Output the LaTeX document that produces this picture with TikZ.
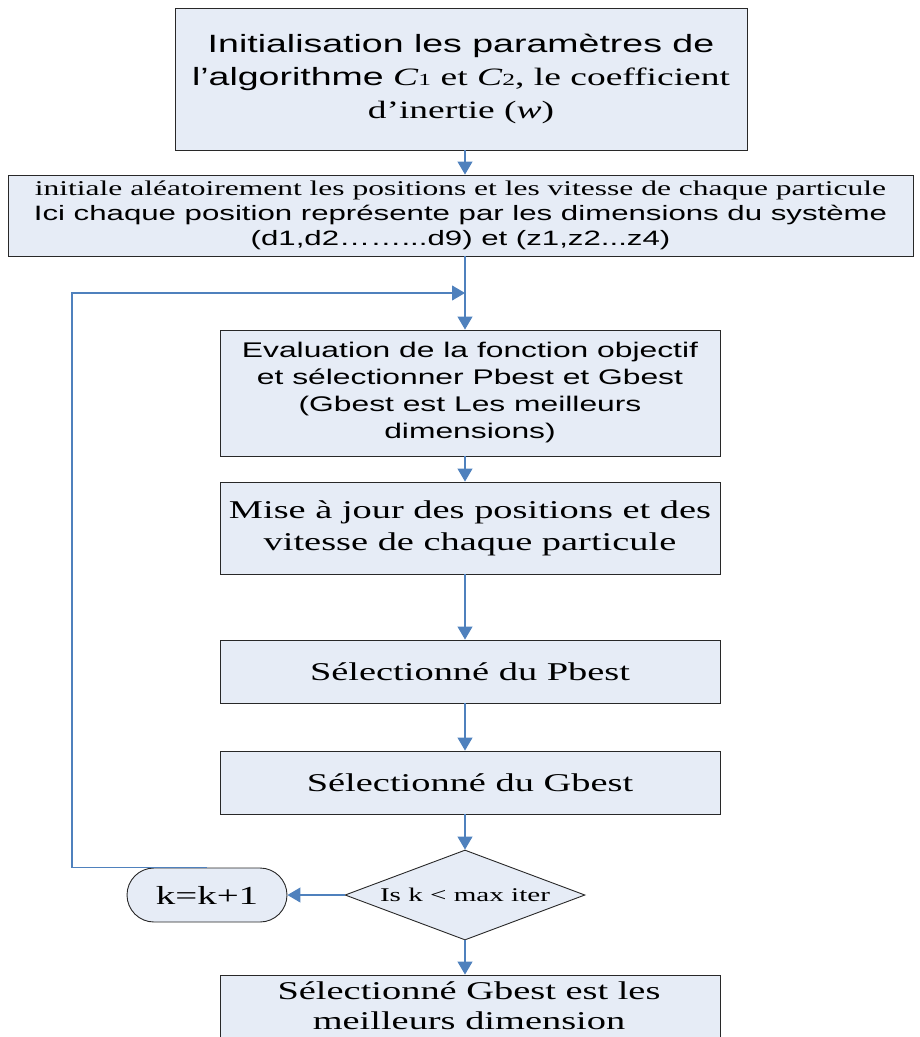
\documentclass[tikz,border=0pt]{standalone}
\usepackage{fontspec}
\setmainfont[FakeStretch=1.5]{Liberation Serif}
\newfontfamily\arialfont[FakeStretch=1.5]{Liberation Sans}
\usetikzlibrary{arrows.meta,shapes.geometric,shapes.misc,shadows}

\definecolor{boxfill}{RGB}{230,236,246}
\definecolor{linkblue}{RGB}{79,129,189}
\definecolor{boxedge}{RGB}{40,40,40}

\newcommand{\fs}[2]{\fontsize{#1}{#2}\selectfont}

\tikzset{
  stepbox/.style={draw=boxedge, line width=0.9pt, fill=boxfill, align=center,
    inner sep=0pt, drop shadow={shadow xshift=1.2pt, shadow yshift=-1.2pt, fill=black!45, opacity=0.5}},
  testbox/.style={diamond, aspect=2.67, draw=boxedge, line width=0.9pt, fill=boxfill, inner sep=0pt,
    minimum width=240pt, minimum height=90pt},
  counterbox/.style={rounded rectangle, draw=boxedge, line width=0.9pt, fill=boxfill,
    inner sep=0pt, minimum width=160pt, minimum height=54pt},
  link/.style={draw=linkblue, line width=1.1pt, -{Triangle[width=15pt,length=13pt]}},
}

\begin{document}
\begin{tikzpicture}[x=1pt,y=-1pt]
\useasboundingbox (0,0) rectangle (920,1037);
\clip (0,0) rectangle (920,1037);

% process boxes
\node[stepbox, minimum width=572pt, minimum height=142pt, font=\fs{25}{33}] (init) at (461,79)
  {{\arialfont Initialisation les paramètres de}\\
   {\arialfont l’algorithme} \textit{C}{\fs{17}{17}1} et \textit{C}{\fs{17}{17}2}, le coefficient\\
   d’inertie (\textit{w})};

\node[stepbox, minimum width=905pt, minimum height=81pt, font=\fs{21}{25}] (rand) at (460.5,215.5)
  {initiale aléatoirement les positions et les vitesse de chaque particule\\
   {\arialfont\fs{20.8}{25}Ici chaque position représente par les dimensions du système}\\
   {\arialfont\fs{20.8}{25}(d1,d2……...d9) et (z1,z2...z4)}};

\node[stepbox, minimum width=500pt, minimum height=126pt, font=\arialfont\fs{21.2}{27}] (eval) at (470,393)
  {Evaluation de la fonction objectif\\
   et sélectionner Pbest et Gbest\\
   (Gbest est Les meilleurs\\
   dimensions)};

\node[stepbox, minimum width=500pt, minimum height=92pt, font=\fs{25.6}{32}] (update) at (470,528)
  {Mise à jour des positions et des\\vitesse de chaque particule};

\node[stepbox, minimum width=500pt, minimum height=63pt, font=\fs{25.6}{30}] (pbest) at (470,671.5)
  {Sélectionné du Pbest};

\node[stepbox, minimum width=500pt, minimum height=63pt, font=\fs{25.6}{30}] (gbest) at (470,782.5)
  {Sélectionné du Gbest};

\node[testbox, font=\fs{19.4}{23}] (test) at (465,895) {Is k < max iter};

\node[counterbox, font=\fs{26}{30}] (kinc) at (207,895) {k=k+1};

\node[stepbox, minimum width=500pt, minimum height=100pt] (final) at (470,1025) {};
\node[align=center, inner sep=0pt, font=\fs{25.6}{30}] (finaltext) at (469,1006)
  {Sélectionné Gbest est les\\meilleurs dimension};

% connectors
\coordinate (looptop) at (72,293);
\coordinate (loopin) at (465,293);

\draw[link] (init.south -| loopin) -- (rand.north -| loopin);
\draw[link] (rand.south -| loopin) -- (eval.north -| loopin);
\draw[link] (kinc.north) -| (looptop) -- (loopin);
\draw[link] (eval.south -| loopin) -- (update.north -| loopin);
\draw[link] (update.south -| loopin) -- (pbest.north -| loopin);
\draw[link] (pbest.south -| loopin) -- (gbest.north -| loopin);
\draw[link] (gbest.south -| loopin) -- (test.north);
\draw[link] (test.west) -- (kinc.east);
\draw[link] (test.south) -- (final.north -| test.south);
\end{tikzpicture}
\end{document}
